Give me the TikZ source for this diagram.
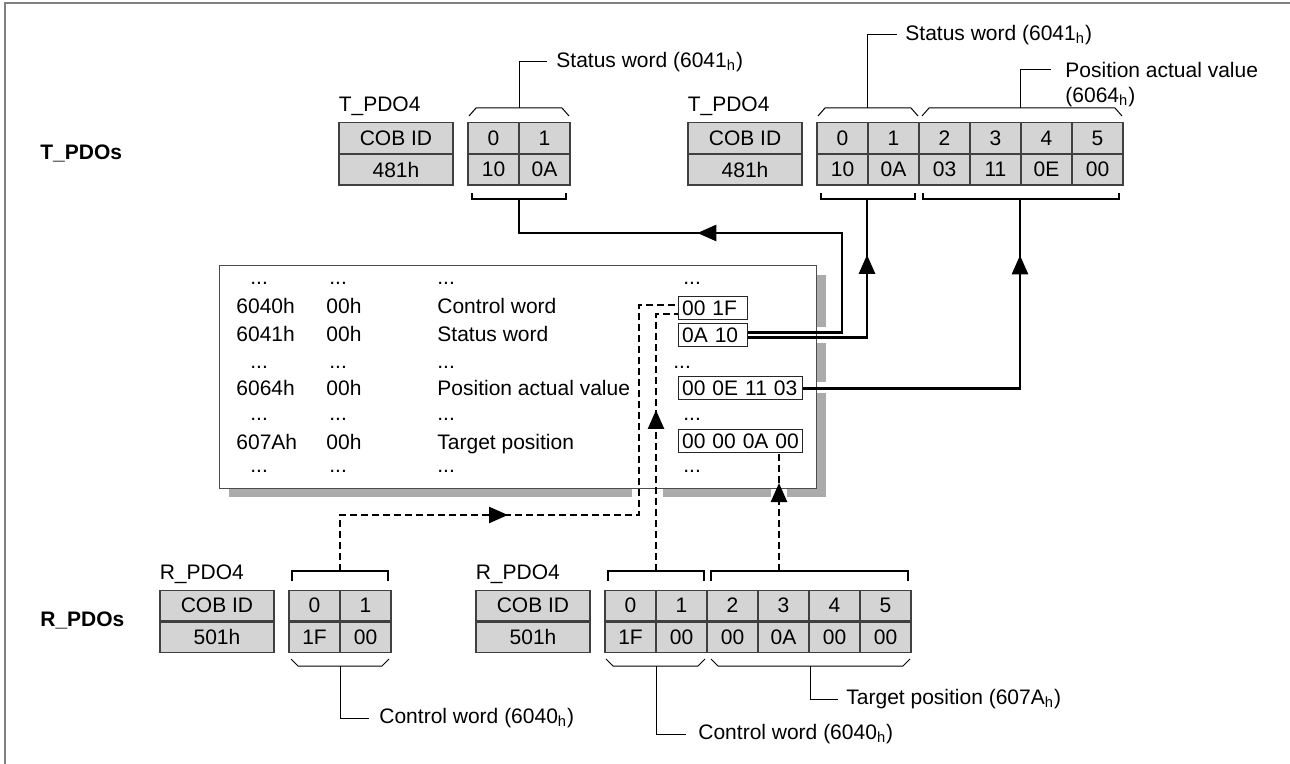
\documentclass[tikz,border=0pt]{standalone}
\usepackage{fontspec}
\setmainfont{Liberation Sans}
\usetikzlibrary{arrows.meta,positioning,decorations.markings}

\begin{document}
\begin{tikzpicture}[
  x=0.5pt, y=-0.5pt,
  every node/.style={font=\fontsize{10.5}{12.6}\selectfont},
  lbl/.style={inner sep=0pt, anchor=west},
  grplbl/.style={lbl, font=\fontsize{10.5}{12.6}\selectfont\bfseries},
  cell/.style={draw=black!75, fill=black!17, line width=0.6pt, minimum width=25.5pt, minimum height=15.25pt, inner sep=0pt},
  cob/.style={cell, minimum width=57pt},
  odbox/.style={draw=black!70, fill=white, line width=0.5pt, inner sep=0pt},
  valbox/.style={draw=black!85, fill=white, line width=0.5pt, inner xsep=1.8pt, inner ysep=0pt, minimum height=11.5pt, text width=#1, align=left, anchor=west},
  odshadow/.style={draw=black!33},
  outerline/.style={draw=black!50, line width=0.8pt},
  thinline/.style={line width=0.5pt},
  bracket/.style={line width=1.3pt},
  conn/.style={line width=1.25pt},
  dconn/.style={conn, dash pattern=on 3.5pt off 2pt},
  arrowat/.style={postaction={decorate}, decoration={markings, mark=at position #1 with {\arrow{Triangle[length=9.5pt,width=8pt]}}}},
]
  \useasboundingbox (0,0) rectangle (1290,764);
  \draw[outerline] (5,764) -- (5,3) -- (1290,3);

  % group labels
  \node[grplbl] (tpdos) at (40,153) {T\_PDOs};
  \node[grplbl] (rpdos) at (40,620) {R\_PDOs};

  % T_PDO4 (status word only)
  \node[cob] (tlcobt) at (396,138) {COB ID};
  \node[cob, below=0pt of tlcobt] (tlcobb) {481h};
  \node[lbl, anchor=base west] (tlname) at ([yshift=5.5pt]tlcobt.north west) {T\_PDO4};
  \foreach \i/\t/\b in {0/0/10,1/1/0A} {
    \node[cell] (tlt\i) at ({493.5+51*\i},138) {\t};
    \node[cell, below=0pt of tlt\i] (tlb\i) {\b};
  }

  % T_PDO4 (status word + position)
  \node[cob] (trcobt) at (745,138) {COB ID};
  \node[cob, below=0pt of trcobt] (trcobb) {481h};
  \node[lbl, anchor=base west] (trname) at ([yshift=5.5pt]trcobt.north west) {T\_PDO4};
  \foreach \i/\t/\b in {0/0/10,1/1/0A,2/2/03,3/3/11,4/4/0E,5/5/00} {
    \node[cell] (trt\i) at ({842.5+51*\i},138) {\t};
    \node[cell, below=0pt of trt\i] (trb\i) {\b};
  }

  % R_PDO4 (control word only)
  \node[cob] (rlcobt) at (217,605.5) {COB ID};
  \node[cob, below=0pt of rlcobt] (rlcobb) {501h};
  \node[lbl, anchor=base west] (rlname) at ([yshift=5pt]rlcobt.north west) {R\_PDO4};
  \foreach \i/\t/\b in {0/0/1F,1/1/00} {
    \node[cell] (rlt\i) at ({314.5+51*\i},605.5) {\t};
    \node[cell, below=0pt of rlt\i] (rlb\i) {\b};
  }

  % R_PDO4 (control word + target)
  \node[cob] (rrcobt) at (533,605.5) {COB ID};
  \node[cob, below=0pt of rrcobt] (rrcobb) {501h};
  \node[lbl, anchor=base west] (rrname) at ([yshift=5pt]rrcobt.north west) {R\_PDO4};
  \foreach \i/\t/\b in {0/0/1F,1/1/00,2/2/00,3/3/0A,4/4/00,5/5/00} {
    \node[cell] (rrt\i) at ({630.5+51*\i},605.5) {\t};
    \node[cell, below=0pt of rrt\i] (rrb\i) {\b};
  }

  % object dictionary
  \draw[odshadow, line width=4.5pt] (821.5,275) -- (821.5,327) (821.5,343) -- (821.5,382) (821.5,393) -- (821.5,497);
  \draw[odshadow, line width=4pt] (229,493) -- (632,493) (663,493) -- (771,493) (787,493) -- (824,493);
  \node[odbox, minimum width=298.5pt, minimum height=111pt] (od) at (517.5,377) {};
  \foreach \yb/\num/\lab in {314/6040h/Control word, 342/6041h/Status word, 396/6064h/Position actual value, 450/607Ah/Target position} {
    \node[lbl, anchor=base west] (n\num) at (236,\yb) {\num};
    \node[lbl, anchor=base west] (s\num) at (326,\yb) {00h};
    \node[lbl, anchor=base west] (t\num) at (437,\yb) {\lab};
  }
  \foreach \yb/\xd in {285/683, 369/673, 421/683, 473/683} {
    \node[lbl, anchor=base west] (da\yb) at (250,\yb) {...};
    \node[lbl, anchor=base west] (db\yb) at (329,\yb) {...};
    \node[lbl, anchor=base west] (dc\yb) at (437,\yb) {...};
    \node[lbl, anchor=base west] (dd\yb) at (\xd,\yb) {...};
  }
  \node[valbox=31pt] (v6040) at (678,308) {00 1F};
  \node[valbox=31pt] (v6041) at (678,335) {0A 10};
  \node[valbox=58.5pt] (v6064) at (678,388.5) {00 0E 11 03};
  \node[valbox=58.5pt] (v607A) at (678,441) {00 00 0A 00};

  % braces and brackets, T side
  \draw[thinline] (469,116) -- (476,108) -- (562,108) -- (569,116);
  \draw[bracket] (472,193) -- (472,199) -- (566,199) -- (566,193);
  \draw[thinline] (818,116) -- (825,108) -- (911,108) -- (918,116);
  \draw[thinline] (922,116) -- (929,108) -- (1115,108) -- (1122,116);
  \draw[bracket] (821,193) -- (821,199) -- (915,199) -- (915,193);
  \draw[bracket] (923,193) -- (923,199) -- (1119,199) -- (1119,193);

  \node[lbl] (tlnote) at (556,62) {Status word (6041\textsubscript{h})};
  \node[lbl] (trnote) at (905,35) {Status word (6041\textsubscript{h})};
  \node[lbl] (posnote) at (1065,70) {Position actual value};
  \node[lbl] (posnoteb) at (1065,97) {(6064\textsubscript{h})};
  \draw[thinline] (519,108) |- ([xshift=-4.5pt]tlnote.west);
  \draw[thinline] (867,108) |- ([xshift=-4pt]trnote.west);
  \draw[thinline] (1020,108) |- ([xshift=-7pt]posnote.west);

  % braces and brackets, R side
  \draw[bracket] (292,581) -- (292,571) -- (388,571) -- (388,581);
  \draw[thinline] (291,659) -- (298,666) -- (382,666) -- (389,659);
  \draw[bracket] (608,581) -- (608,571) -- (704,571) -- (704,581);
  \draw[bracket] (711,581) -- (711,571) -- (908,571) -- (908,581);
  \draw[thinline] (606,659) -- (613,666) -- (698,666) -- (705,659);
  \draw[thinline] (711,659) -- (718,666) -- (903,666) -- (910,659);

  \node[lbl] (rlnote) at (379,718) {Control word (6040\textsubscript{h})};
  \node[lbl] (rrnote) at (698,734) {Control word (6040\textsubscript{h})};
  \node[lbl] (tgnote) at (846,699) {Target position (607A\textsubscript{h})};
  \draw[thinline] (340,666) |- ([xshift=-5pt]rlnote.west);
  \draw[thinline] (656,666) |- ([xshift=-6pt]rrnote.west);
  \draw[thinline] (810,666) |- ([xshift=-4pt]tgnote.west);

  % connectors
  \coordinate (tlstem) at (519,199);
  \coordinate (tr1stem) at (867,199);
  \coordinate (tr2stem) at (1020,199);
  \coordinate (rlstem) at (340,571);
  \coordinate (rr1stem) at (656,571);
  \coordinate (rr2stem) at (779,571);
  \coordinate (tbend) at (842,233);
  \coordinate (rbend) at (639,515);

  \draw[conn, arrowat=169pt] ([yshift=1.25pt]v6041.east) -| (tbend) -| (tlstem);
  \draw[conn, arrowat=100.75pt] ([yshift=-1.25pt]v6041.east) -| (tr1stem);
  \draw[conn, arrowat=175pt] (v6064.east) -| (tr2stem);
  \draw[dconn, arrowat=112pt] (rlstem) |- (rbend) |- ([yshift=1.5pt]v6040.west);
  \draw[dconn, arrowat=80.5pt] (rr1stem) |- ([yshift=-3pt]v6040.west);
  \draw[dconn, arrowat=44pt] (rr2stem) -- (rr2stem |- v607A.south);
\end{tikzpicture}
\end{document}
